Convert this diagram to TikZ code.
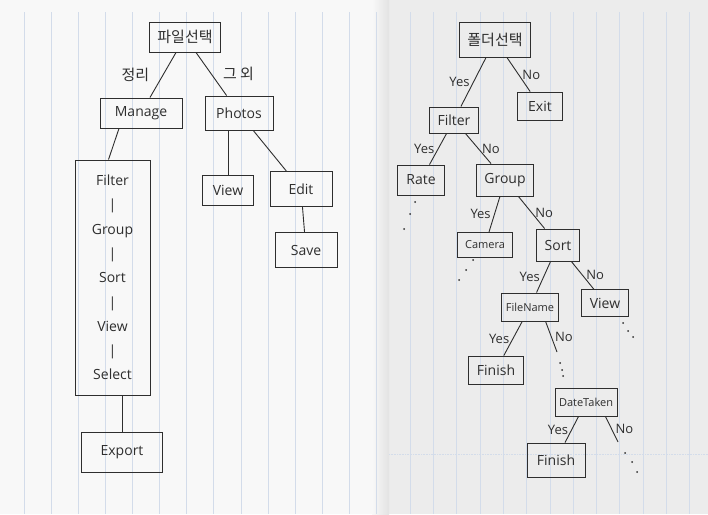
\documentclass[tikz,border=0pt]{standalone}
\usepackage{fontspec}
\setmainfont{Open Sans}
\newfontfamily\kr{Noto Sans CJK KR}
\definecolor{pen}{HTML}{2E2E2E}
\definecolor{ruling}{HTML}{D3DCEA}
\definecolor{pageL}{HTML}{F8F8F8}
\definecolor{pageR}{HTML}{ECECEC}
\tikzset{
	box/.style={draw=pen, line width=0.9pt, text=pen, inner xsep=8pt, minimum height=28pt, font=\fontsize{14}{16}\selectfont},
	tiny/.style={font=\fontsize{11}{13}\selectfont},
	hangul/.style={font=\kr\fontsize{15}{17}\selectfont},
	lbl/.style={text=pen, font=\fontsize{13}{15}\selectfont},
	wire/.style={draw=pen, line width=0.9pt},
	rule/.style={ruling, line width=0.6pt},
}
\begin{document}
\begin{tikzpicture}[x=1pt, y=-1pt]
	\useasboundingbox (0,0) rectangle (708,514);
	\fill[pageL] (0,0) rectangle (389,514);
	\fill[pageR] (389,0) rectangle (708,514);
	\shade[left color=pageL, right color=gray!22] (372,0) rectangle (389,514);
	\foreach \i in {0,...,13} \draw[rule] ({24+27.1*\i},12) -- ({24+27.1*\i},514);
	\foreach \i in {0,...,12} \draw[rule] ({410+23.3*\i},12) -- ({410+23.3*\i},514);
	\draw[rule, densely dotted] (389,454) -- (708,454);

	% left page
	\node[box, hangul, minimum width=70pt, minimum height=30pt] (file) at (185,37) {파일선택};
	\node[box, minimum width=82pt, minimum height=30pt] (manage) at (141,113) {Manage};
	\node[box, minimum width=68pt, minimum height=34pt] (photos) at (239,113) {Photos};
	\node[box, minimum width=75pt, minimum height=235pt, align=center, font=\fontsize{14}{24.3}\selectfont] (menu) at (112.5,277.5) {Filter\\|\\Group\\|\\Sort\\|\\View\\|\\Select};
	\node[box, minimum width=81pt, minimum height=40pt] (export) at (122,452) {Export};
	\node[box, minimum width=51pt, minimum height=30pt] (view) at (228,190) {View};
	\node[box, minimum width=62pt, minimum height=35pt] (edit) at (301,189) {Edit};
	\node[box, minimum width=62pt, minimum height=35pt] (save) at (306,250) {Save};

	\draw[wire] (file) -- node[lbl, hangul, left=10pt] {정리} (manage);
	\draw[wire] (file) -- node[lbl, hangul, right=8pt] {그 외} (photos);
	\draw[wire] ([xshift=-22pt]manage.south) -- ([xshift=-4pt]menu.north);
	\draw[wire] (export.north |- menu.south) -- (export.north);
	\draw[wire] (view.north |- photos.south) -- (view.north);
	\draw[wire] (photos) -- (edit);
	\draw[wire] (edit) -- (save);

	% right page
	\node[box, hangul, minimum width=66pt, minimum height=35pt] (folder) at (495,40) {폴더선택};
	\node[box, minimum height=26pt] (filter) at (454,120) {Filter};
	\node[box, minimum width=45pt] (exit) at (540,106) {Exit};
	\node[box, minimum width=47pt, minimum height=30pt] (rate) at (421,180) {Rate};
	\node[box, minimum height=32pt] (group) at (505,180) {Group};
	\node[box, tiny, minimum width=50pt, minimum height=25pt] (camera) at (485,245) {Camera};
	\node[box, minimum width=43pt, minimum height=32pt] (sort) at (558,245) {Sort};
	\node[box, tiny, inner xsep=4pt] (filename) at (530,307) {FileName};
	\node[box, minimum height=27pt] (viewR) at (605,303) {View};
	\node[box, minimum width=53pt] (finishA) at (496,370) {Finish};
	\node[box, tiny, inner xsep=4pt] (datetaken) at (586,402) {DateTaken};
	\node[box, minimum width=58pt, minimum height=34pt] (finishB) at (556,460) {Finish};
	\coordinate (moreA) at (557,352);
	\coordinate (moreB) at (618,442);

	\draw[wire] (folder) -- node[lbl, left] {Yes} (filter);
	\draw[wire] (folder) -- node[lbl, right] {No} (exit);
	\draw[wire] (filter) -- node[lbl, left] {Yes} (rate);
	\draw[wire] (filter) -- node[lbl, right] {No} (group);
	\draw[wire] (group) -- node[lbl, left] {Yes} (camera);
	\draw[wire] (group) -- node[lbl, right] {No} (sort);
	\draw[wire] (sort) -- node[lbl, left] {Yes} (filename);
	\draw[wire] (sort) -- node[lbl, right] {No} (viewR);
	\draw[wire] (filename) -- node[lbl, left] {Yes} (finishA);
	\draw[wire] ([xshift=-13pt]filename.south east) -- node[lbl, right] {No} (moreA);
	\draw[wire] (datetaken) -- node[lbl, left] {Yes} (finishB);
	\draw[wire] ([xshift=-12pt]datetaken.south east) -- node[lbl, right] {No} (moreB);

	\foreach \p in {(415,202),(410,214),(404,229),(473,260),(466,270),(459,280),(623,323),(628,331),(633,337),(560,363),(562,370),(563,376),(625,453),(632,462),(637,472)}
		\fill[pen] \p circle (1pt);
\end{tikzpicture}
\end{document}
